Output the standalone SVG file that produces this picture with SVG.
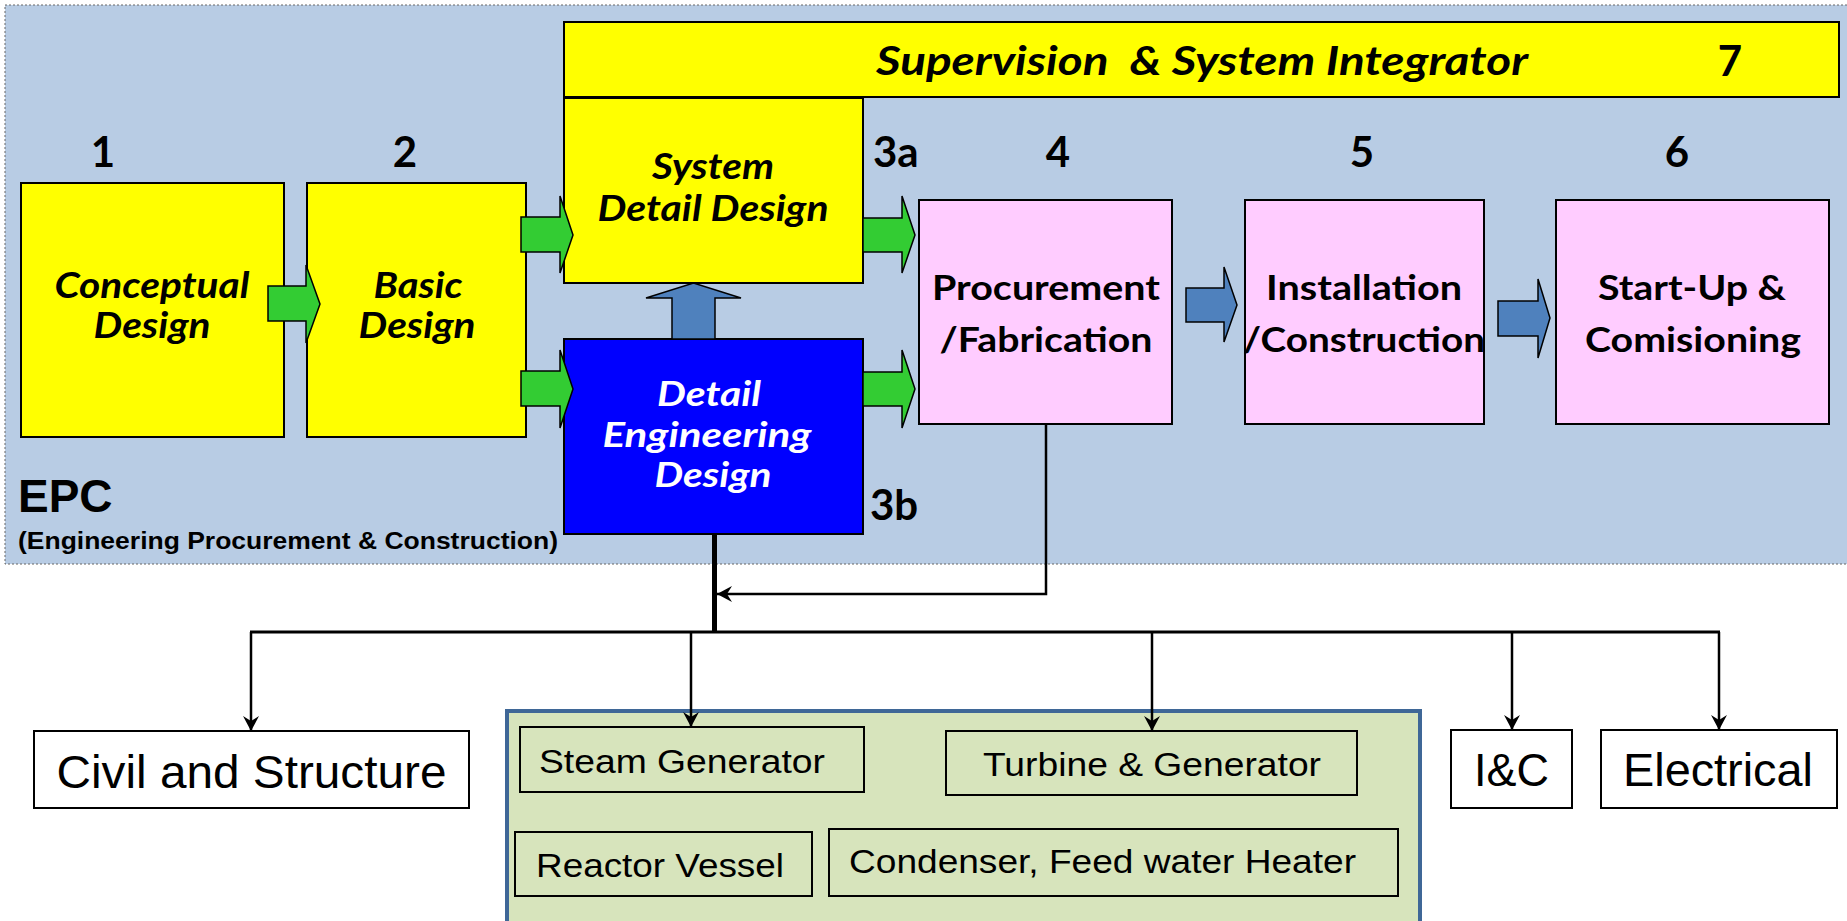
<svg xmlns="http://www.w3.org/2000/svg" width="1847" height="921" viewBox="0 0 1847 921">
<defs>
<marker id="ah" markerUnits="userSpaceOnUse" markerWidth="16" markerHeight="16" refX="15" refY="8" orient="auto" viewBox="0 0 16 16">
<path d="M0,0 L15,8 L0,16 L5,8 Z" fill="#000"/>
</marker>
<style>
.box{stroke:#000;stroke-width:2}
.yel{fill:#ffff00}
.pink{fill:#ffccff}
.blu{fill:#0000ff}
.garr{fill:#33cc33;stroke:#000;stroke-width:1.5}
.barr{fill:#4f81bd;stroke:#000;stroke-width:1.5}
.bi{font-family:Lato,"Open Sans",sans-serif;font-weight:bold;font-style:italic;text-anchor:middle}
.b{font-family:Lato,"Open Sans",sans-serif;font-weight:bold;text-anchor:middle}
.num{font-family:Lato,"Open Sans",sans-serif;font-weight:bold;font-size:42px}
.ar{font-family:"Liberation Sans",Arial,sans-serif}
.conn{fill:none;stroke:#000;stroke-width:2.5}
.sub{fill:#d7e4bc;stroke:#000;stroke-width:2}
</style>
</defs>
<rect width="1847" height="921" fill="#fff"/>
<g id="epc-panel">
<rect x="5" y="5" width="1845" height="559" fill="#b8cce4" stroke="#666" stroke-width="1" stroke-dasharray="2,2"/>
<text x="18" y="512" class="ar" font-weight="bold" font-size="46">EPC</text>
<text x="18" y="549" class="ar" font-weight="bold" font-size="23" textLength="540" lengthAdjust="spacingAndGlyphs">(Engineering Procurement &amp; Construction)</text>
</g>
<g id="n1">
<rect x="21" y="183" width="263" height="254" class="box yel"/>
<text x="103" y="167" class="num" text-anchor="middle">1</text>
<text x="152" y="298" class="bi" font-size="36" textLength="195" lengthAdjust="spacingAndGlyphs">Conceptual</text>
<text x="152" y="338" class="bi" font-size="36" textLength="117" lengthAdjust="spacingAndGlyphs">Design</text>
</g>
<g id="n2">
<rect x="307" y="183" width="219" height="254" class="box yel"/>
<text x="405" y="167" class="num" text-anchor="middle">2</text>
<text x="418" y="298" class="bi" font-size="36" textLength="89" lengthAdjust="spacingAndGlyphs">Basic</text>
<text x="417" y="338" class="bi" font-size="36" textLength="117" lengthAdjust="spacingAndGlyphs">Design</text>
</g>
<g id="n7">
<rect x="564" y="22" width="1275" height="75" class="box yel"/>
<text x="876" y="75" class="bi" font-size="40" style="text-anchor:start;white-space:pre" xml:space="preserve" textLength="652" lengthAdjust="spacingAndGlyphs">Supervision  &amp; System Integrator</text>
<text x="1730" y="76" class="num" text-anchor="middle">7</text>
</g>
<g id="n3a">
<rect x="564" y="98" width="299" height="185" class="box yel"/>
<text x="713" y="179" class="bi" font-size="36" textLength="122" lengthAdjust="spacingAndGlyphs">System</text>
<text x="713" y="221" class="bi" font-size="36" textLength="231" lengthAdjust="spacingAndGlyphs">Detail Design</text>
<text x="873" y="167" class="num">3a</text>
</g>
<g id="n3b">
<rect x="564" y="339" width="299" height="195" class="box blu"/>
<text x="709" y="406" class="bi" font-size="34" fill="#fff" textLength="104" lengthAdjust="spacingAndGlyphs">Detail</text>
<text x="707" y="447" class="bi" font-size="34" fill="#fff" textLength="209" lengthAdjust="spacingAndGlyphs">Engineering</text>
<text x="713" y="487" class="bi" font-size="34" fill="#fff" textLength="117" lengthAdjust="spacingAndGlyphs">Design</text>
<text x="870" y="520" class="num">3b</text>
</g>
<g id="n4">
<rect x="919" y="200" width="253" height="224" class="box pink"/>
<text x="1058" y="167" class="num" text-anchor="middle">4</text>
<text x="1046" y="300" class="b" font-size="35" textLength="228" lengthAdjust="spacingAndGlyphs">Procurement</text>
<text x="1046" y="352" class="b" font-size="35" textLength="213" lengthAdjust="spacingAndGlyphs">/Fabrication</text>
</g>
<g id="n5">
<rect x="1245" y="200" width="239" height="224" class="box pink"/>
<text x="1362" y="167" class="num" text-anchor="middle">5</text>
<text x="1364" y="300" class="b" font-size="35" textLength="196" lengthAdjust="spacingAndGlyphs">Installation</text>
<text x="1364" y="352" class="b" font-size="35" textLength="242" lengthAdjust="spacingAndGlyphs">/Construction</text>
</g>
<g id="n6">
<rect x="1556" y="200" width="273" height="224" class="box pink"/>
<text x="1677" y="167" class="num" text-anchor="middle">6</text>
<text x="1692" y="300" class="b" font-size="35" textLength="188" lengthAdjust="spacingAndGlyphs">Start-Up &amp;</text>
<text x="1693" y="352" class="b" font-size="35" textLength="216" lengthAdjust="spacingAndGlyphs">Comisioning</text>
</g>
<g id="block-arrows">
<polygon class="garr" points="268,286 306,286 306,265 320,304 306,343 306,321 268,321"/>
<polygon class="garr" points="521,217 560,217 560,196 573,235 560,273 560,252 521,252"/>
<polygon class="garr" points="521,371 560,371 560,350 573,389 560,428 560,406 521,406"/>
<polygon class="garr" points="863,218 902,218 902,196 915,235 902,273 902,252 863,252"/>
<polygon class="garr" points="863,372 902,372 902,350 915,389 902,428 902,406 863,406"/>
<polygon class="barr" points="1186,288 1224,288 1224,267 1237,305 1224,342 1224,322 1186,322"/>
<polygon class="barr" points="1498,301 1538,301 1538,279 1550,318 1538,358 1538,336 1498,336"/>
<polygon class="barr" points="672,339 672,298 646,298 693.5,283 741,298 715,298 715,339"/>
</g>
<g id="civil">
<rect x="34" y="731" width="435" height="77" fill="#fff" stroke="#000" stroke-width="2"/>
<text x="251.5" y="788" class="ar" font-size="47" text-anchor="middle" textLength="390" lengthAdjust="spacingAndGlyphs">Civil and Structure</text>
</g>
<g id="nssi">
<rect x="507" y="711" width="913" height="216" fill="#d7e4bc" stroke="#3f6797" stroke-width="4"/>
<g id="steam">
<rect x="520" y="727" width="344" height="65" class="sub"/>
<text x="539" y="773" class="ar" font-size="34" textLength="286" lengthAdjust="spacingAndGlyphs">Steam Generator</text>
</g>
<g id="turbine">
<rect x="946" y="731" width="411" height="64" class="sub"/>
<text x="983" y="776" class="ar" font-size="34" textLength="338" lengthAdjust="spacingAndGlyphs">Turbine &amp; Generator</text>
</g>
<g id="reactor">
<rect x="515" y="832" width="297" height="64" class="sub"/>
<text x="536" y="877" class="ar" font-size="34" textLength="248" lengthAdjust="spacingAndGlyphs">Reactor Vessel</text>
</g>
<g id="condenser">
<rect x="829" y="829" width="569" height="67" class="sub"/>
<text x="849" y="873" class="ar" font-size="34" textLength="507" lengthAdjust="spacingAndGlyphs">Condenser, Feed water Heater</text>
</g>
</g>
<g id="ic">
<rect x="1451" y="730" width="121" height="78" fill="#fff" stroke="#000" stroke-width="2"/>
<text x="1511.5" y="786" class="ar" font-size="46" text-anchor="middle" textLength="75" lengthAdjust="spacingAndGlyphs">I&amp;C</text>
</g>
<g id="electrical">
<rect x="1601" y="730" width="236" height="78" fill="#fff" stroke="#000" stroke-width="2"/>
<text x="1623" y="786" class="ar" font-size="46" textLength="190" lengthAdjust="spacingAndGlyphs">Electrical</text>
</g>
<g id="connectors">
<line x1="714.5" y1="534" x2="714.5" y2="633" stroke="#000" stroke-width="5"/>
<line x1="250" y1="632" x2="1720" y2="632" stroke="#000" stroke-width="3"/>
<polyline class="conn" points="1046,424 1046,594 717,594" marker-end="url(#ah)"/>
<line class="conn" x1="251" y1="632" x2="251" y2="731" marker-end="url(#ah)"/>
<line class="conn" x1="691" y1="632" x2="691" y2="727" marker-end="url(#ah)"/>
<line class="conn" x1="1152" y1="632" x2="1152" y2="731" marker-end="url(#ah)"/>
<line class="conn" x1="1512" y1="632" x2="1512" y2="730" marker-end="url(#ah)"/>
<line class="conn" x1="1719" y1="632" x2="1719" y2="730" marker-end="url(#ah)"/>
</g>
</svg>
